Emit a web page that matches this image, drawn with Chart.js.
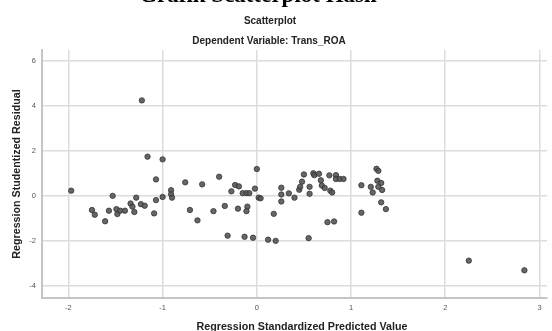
<!DOCTYPE html>
<html>
<head>
<meta charset="utf-8">
<script src="https://cdn.jsdelivr.net/npm/chart.js@4.4.1/dist/chart.umd.min.js"></script>
<style>
  body { margin: 0; background: #fff; }
  canvas { display: block; }
</style>
</head>
<body>
<canvas id="scatter" width="552" height="331"></canvas>
<script>
// values
const predicted = [
  -1.97, -1.75, -1.72, -1.61, -1.57, -1.53, -1.49, -1.48, -1.45, -1.40,
  -1.34, -1.32, -1.30, -1.28, -1.23, -1.19, -1.22, -1.16, -1.09, -1.07,
  -1.07, -1.00, -1.00, -0.91, -0.91, -0.90, -0.76, -0.71, -0.63, -0.58,
  -0.46, -0.40, -0.34, -0.31, -0.27, -0.23, -0.19, -0.20, -0.15, -0.11,
  -0.08, -0.10, -0.11, -0.13, -0.04, -0.02, 0.00, 0.02, 0.04, 0.12,
  0.18, 0.20, 0.26, 0.26, 0.26, 0.34, 0.40, 0.45, 0.46, 0.48,
  0.50, 0.55, 0.56, 0.56, 0.60, 0.61, 0.66, 0.68, 0.69, 0.72,
  0.75, 0.77, 0.78, 0.80, 0.82, 0.84, 0.84, 0.88, 0.92, 1.11,
  1.11, 1.21, 1.23, 1.27, 1.29, 1.28, 1.32, 1.29, 1.33, 1.32,
  1.37, 2.25, 2.84
]
const residual = [
  0.24, -0.62, -0.83, -1.12, -0.65, 0.01, -0.58, -0.80, -0.65, -0.65,
  -0.33, -0.47, -0.71, -0.07, -0.36, -0.43, 4.25, 1.75, -0.77, -0.18,
  0.74, 1.63, -0.04, 0.26, 0.08, -0.07, 0.61, -0.62, -1.08, 0.52,
  -0.67, 0.86, -0.44, -1.76, 0.21, 0.49, 0.43, -0.56, 0.13, 0.13,
  0.13, -0.47, -0.67, -1.81, -1.85, 0.33, 1.20, -0.07, -0.10, -1.94,
  -0.79, -1.99, 0.37, 0.07, -0.24, 0.12, -0.07, 0.28, 0.41, 0.64,
  0.96, -1.87, 0.41, 0.10, 1.01, 0.93, 0.99, 0.70, 0.47, 0.36,
  -1.16, 0.92, 0.24, 0.16, -1.13, 0.93, 0.76, 0.76, 0.76, 0.48,
  -0.74, 0.41, 0.16, 1.21, 1.12, 0.68, 0.58, 0.41, 0.27, -0.28,
  -0.58, -2.87, -3.30
]
const xTicks = [-2, -1, 0, 1, 2, 3]
const yTicks = [-4, -2, 0, 2, 4, 6]

const pageTitle = 'Grafik Scatterplot Hasil'
const chartTitle = 'Scatterplot'
const chartSubtitle = 'Dependent Variable: Trans_ROA'
const xTitle = 'Regression Standardized Predicted Value'
const yTitle = 'Regression Studentized Residual'

const points = predicted.map((x, i) => ({ x: x, y: residual[i] }))

const textPlugin = {
  id: 'texts',
  afterDraw: (chart) => {
    const ctx = chart.ctx
    const area = chart.chartArea
    ctx.save()
    ctx.fillStyle = '#000'
    ctx.textAlign = 'center'
    ctx.textBaseline = 'alphabetic'
    // heading of the document, cut off by the crop
    ctx.font = 'bold 23px "Liberation Serif"'
    ctx.fillText(pageTitle, 258, 2)

    ctx.fillStyle = '#222'
    ctx.textBaseline = 'middle'
    ctx.font = 'bold 10px "Liberation Sans"'
    ctx.fillText(chartTitle, 270, 21)
    ctx.fillText(chartSubtitle, 269, 41)

    ctx.font = 'bold 10.7px "Liberation Sans"'
    ctx.fillText(xTitle, 302, 327)
    ctx.translate(17, (area.top + area.bottom) / 2)
    ctx.rotate(-Math.PI / 2)
    ctx.fillText(yTitle, 0, 0)
    ctx.restore()
  }
}

const ctx = document.querySelector('#scatter')
const scatterChart = new Chart(ctx, {
  type: 'scatter',
  data: {
    datasets: [
      {
        label: 'Residual',
        data: points,
        backgroundColor: 'rgba(85,85,85,0.9)',
        borderColor: '#333',
        borderWidth: 0.8,
        pointRadius: 2.7
      }
    ]
  },
  options: {
    responsive: false,
    animation: false,
    devicePixelRatio: 1,
    layout: { padding: { top: 50, right: 5, left: 0, bottom: 0 } },
    plugins: {
      legend: { display: false },
      tooltip: { enabled: false }
    },
    scales: {
      x: {
        type: 'linear',
        min: -2.28,
        max: 3.08,
        afterFit: (scale) => { scale.height = 33 },
        afterBuildTicks: (scale) => { scale.ticks = xTicks.map(v => ({ value: v })) },
        grid: { color: '#dcdcdc', lineWidth: 1.5, drawTicks: false },
        border: { color: '#c4c4c4', width: 2 },
        ticks: { padding: 5, color: '#555', font: { size: 7.5, family: 'Liberation Sans' } }
      },
      y: {
        type: 'linear',
        min: -4.53,
        max: 6.49,
        afterFit: (scale) => { scale.width = 42 },
        afterBuildTicks: (scale) => { scale.ticks = yTicks.map(v => ({ value: v })) },
        grid: { color: '#dcdcdc', lineWidth: 1.5, drawTicks: false },
        border: { color: '#c4c4c4', width: 2 },
        ticks: { padding: 6, color: '#555', font: { size: 7.5, family: 'Liberation Sans' } }
      }
    }
  },
  plugins: [textPlugin]
})
</script>
</body>
</html>
